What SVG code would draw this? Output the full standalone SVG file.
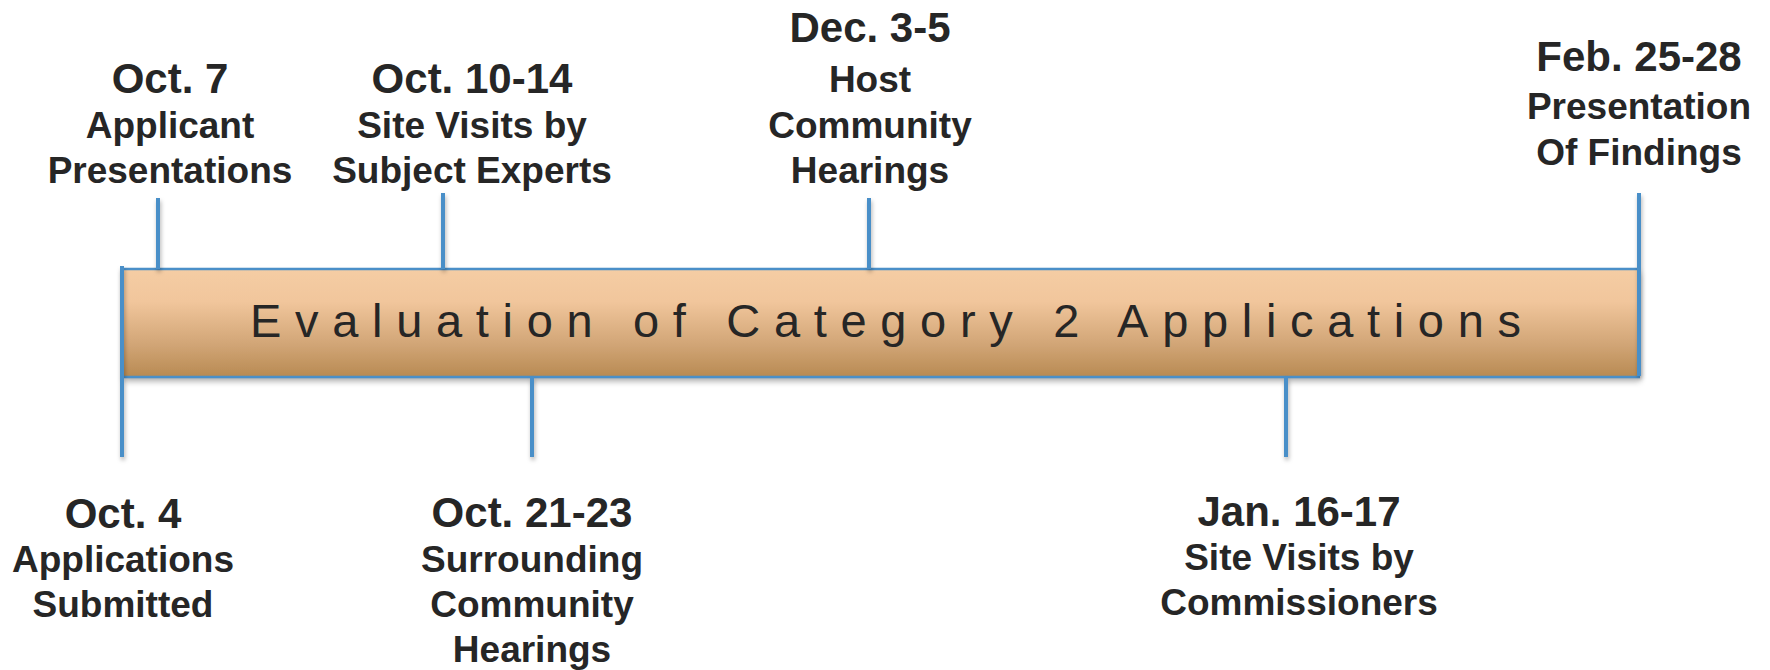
<svg xmlns="http://www.w3.org/2000/svg" width="1770" height="670" viewBox="0 0 1770 670">
  <style>
    .date { font-family: "Liberation Sans", Arial, sans-serif; font-weight: bold; font-size: 42px; fill: #262626; text-anchor: middle; }
    .desc { font-family: "Liberation Sans", Arial, sans-serif; font-weight: bold; font-size: 37px; fill: #262626; text-anchor: middle; }
    .title { font-family: "Liberation Sans", Arial, sans-serif; font-size: 47px; fill: #262626; }
    .tick { stroke: #4A8FC8; stroke-width: 4; fill: none; }
    .edge { stroke: #4A8FC8; stroke-width: 2.5; fill: none; }
  </style>
  <defs>
    <linearGradient id="barFill" x1="0" y1="0" x2="0" y2="1">
      <stop offset="0" stop-color="#F5CDA4"/>
      <stop offset="0.3" stop-color="#F1C69C"/>
      <stop offset="0.7" stop-color="#D1A576"/>
      <stop offset="1" stop-color="#B88A52"/>
    </linearGradient>
    <filter id="shadow" x="-5%" y="-20%" width="110%" height="160%">
      <feDropShadow dx="2" dy="4" stdDeviation="3" flood-color="#000" flood-opacity="0.35"/>
    </filter>
    <filter id="tshadow" x="-20%" y="-5%" width="140%" height="110%">
      <feDropShadow dx="1" dy="3" stdDeviation="2" flood-color="#000" flood-opacity="0.3"/>
    </filter>
  </defs>

  <g id="bar">
    <rect x="122" y="269" width="1516" height="108" fill="url(#barFill)" filter="url(#shadow)"/>
    <line class="edge" x1="122" y1="269" x2="1638" y2="269"/>
    <line class="edge" x1="122" y1="377" x2="1640" y2="377"/>
    <text class="title" x="250" y="337" textLength="1271" lengthAdjust="spacing">Evaluation of Category 2 Applications</text>
  </g>

  <g id="connectors" filter="url(#tshadow)">
    <line class="tick" x1="122" y1="266" x2="122" y2="457"/>
    <line class="tick" x1="158" y1="198" x2="158" y2="269"/>
    <line class="tick" x1="443" y1="193" x2="443" y2="269"/>
    <line class="tick" x1="532" y1="377" x2="532" y2="457"/>
    <line class="tick" x1="869" y1="198" x2="869" y2="269"/>
    <line class="tick" x1="1286" y1="377" x2="1286" y2="457"/>
    <line class="tick" x1="1639" y1="193" x2="1639" y2="376"/>
  </g>

  <g id="oct7">
    <text class="date" x="170" y="93">Oct. 7</text>
    <text class="desc" x="170" y="138">Applicant</text>
    <text class="desc" x="170" y="183">Presentations</text>
  </g>
  <g id="oct10">
    <text class="date" x="472" y="93">Oct. 10-14</text>
    <text class="desc" x="472" y="138">Site Visits by</text>
    <text class="desc" x="472" y="183">Subject Experts</text>
  </g>
  <g id="dec3">
    <text class="date" x="870" y="42">Dec. 3-5</text>
    <text class="desc" x="870" y="92">Host</text>
    <text class="desc" x="870" y="138">Community</text>
    <text class="desc" x="870" y="183">Hearings</text>
  </g>
  <g id="feb25">
    <text class="date" x="1639" y="71">Feb. 25-28</text>
    <text class="desc" x="1639" y="119">Presentation</text>
    <text class="desc" x="1639" y="165">Of Findings</text>
  </g>
  <g id="oct4">
    <text class="date" x="123" y="528">Oct. 4</text>
    <text class="desc" x="123" y="572">Applications</text>
    <text class="desc" x="123" y="617">Submitted</text>
  </g>
  <g id="oct21">
    <text class="date" x="532" y="527">Oct. 21-23</text>
    <text class="desc" x="532" y="572">Surrounding</text>
    <text class="desc" x="532" y="617">Community</text>
    <text class="desc" x="532" y="662">Hearings</text>
  </g>
  <g id="jan16">
    <text class="date" x="1299" y="526">Jan. 16-17</text>
    <text class="desc" x="1299" y="570">Site Visits by</text>
    <text class="desc" x="1299" y="615">Commissioners</text>
  </g>
</svg>
